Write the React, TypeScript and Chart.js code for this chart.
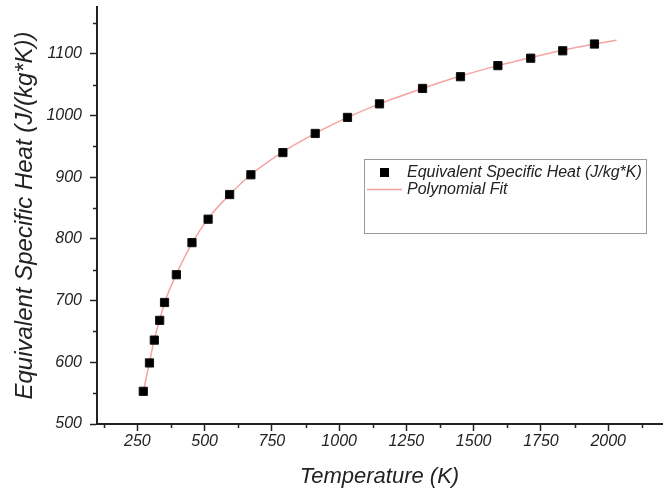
import React, { useEffect, useRef } from "react";
import { Chart, registerables } from "chart.js";

Chart.register(...registerables);

const TEMPS = [272, 295, 313, 333, 351, 395, 453, 513, 593, 672, 791, 911, 1031, 1150, 1310, 1451, 1590, 1712, 1831, 1949];
const HEAT = [553, 599, 636, 668, 697, 742, 794, 832, 872, 904, 940, 971, 997, 1019, 1044, 1063, 1081, 1093, 1105, 1116];

const FIT_T = [270, 295, 313, 333, 353, 395, 453, 513, 593, 672, 791, 911, 1031, 1150, 1310, 1451, 1590, 1712, 1831, 1949, 2031];
const FIT_HEAT = [548, 600, 637, 669, 699, 743, 793, 833, 872, 904, 941, 971, 997, 1019, 1044, 1064, 1081, 1094, 1106, 1116, 1122];

const X_MAJOR = [250, 500, 750, 1000, 1250, 1500, 1750, 2000];
const X_MINOR = [125, 375, 625, 875, 1125, 1375, 1625, 1875, 2125];
const Y_MAJOR = [500, 600, 700, 800, 900, 1000, 1100];
const Y_MINOR = [550, 650, 750, 850, 950, 1050, 1150];

const SERIES_LABEL = "Equivalent Specific Heat (J/kg*K)";
const FIT_LABEL = "Polynomial Fit";
const X_TITLE = "Temperature (K)";
const Y_TITLE = "Equivalent Specific Heat (J/(kg*K))";

const FONT = "'Liberation Sans', Arial, sans-serif";
const AXIS = "#222";
const FIT_COLOR = "#f4a3a3";

const minorTicks = {
  id: "minorTicks",
  afterDraw(chart: any) {
    const ctx = chart.ctx;
    const xs = chart.scales.x;
    const ys = chart.scales.y;
    const { left, bottom } = chart.chartArea;
    ctx.save();
    ctx.strokeStyle = AXIS;
    ctx.lineWidth = 1.5;
    ctx.beginPath();
    X_MINOR.forEach((v) => {
      const px = Math.round(xs.getPixelForValue(v)) + 0.5;
      ctx.moveTo(px, bottom);
      ctx.lineTo(px, bottom + 4);
    });
    Y_MINOR.forEach((v) => {
      const py = Math.round(ys.getPixelForValue(v)) + 0.5;
      ctx.moveTo(left, py);
      ctx.lineTo(left - 4, py);
    });
    ctx.stroke();
    ctx.restore();
  },
};

const boxLegend = {
  id: "boxLegend",
  afterDraw(chart: any) {
    const ctx = chart.ctx;
    ctx.save();
    ctx.strokeStyle = "#9a9a9a";
    ctx.lineWidth = 1;
    ctx.strokeRect(364.5, 159.5, 282, 74);
    ctx.fillStyle = "#000";
    ctx.fillRect(380, 168, 9, 9);
    ctx.strokeStyle = FIT_COLOR;
    ctx.lineWidth = 1.5;
    ctx.beginPath();
    ctx.moveTo(367, 189.5);
    ctx.lineTo(402, 189.5);
    ctx.stroke();
    ctx.fillStyle = AXIS;
    ctx.font = `italic 16px ${FONT}`;
    ctx.textBaseline = "middle";
    ctx.textAlign = "left";
    ctx.fillText(SERIES_LABEL, 407, 173);
    ctx.fillText(FIT_LABEL, 407, 190);
    ctx.restore();
  },
};

export default function App() {
  const ref = useRef<HTMLCanvasElement>(null);

  useEffect(() => {
    if (!ref.current) return;
    const chart = new Chart(ref.current, {
      type: "scatter",
      data: {
        datasets: [
          {
            label: FIT_LABEL,
            type: "line",
            data: FIT_T.map((t, i) => ({ x: t, y: FIT_HEAT[i] })),
            borderColor: FIT_COLOR,
            borderWidth: 1.5,
            pointRadius: 0,
            cubicInterpolationMode: "monotone",
            fill: false,
            order: 2,
          } as any,
          {
            label: SERIES_LABEL,
            data: TEMPS.map((t, i) => ({ x: t, y: HEAT[i] })),
            pointStyle: "rect",
            pointRadius: 5.8,
            pointBackgroundColor: "#000",
            pointBorderColor: "#111",
            pointBorderWidth: 1,
            showLine: false,
            order: 1,
          },
        ],
      },
      options: {
        animation: false,
        responsive: false,
        maintainAspectRatio: false,
        layout: { padding: { top: 7, right: 8, bottom: 0, left: 0 } },
        plugins: {
          legend: { display: false },
          tooltip: { enabled: false },
        },
        scales: {
          x: {
            type: "linear",
            min: 100,
            max: 2200,
            afterBuildTicks: (s: any) => {
              s.ticks = X_MAJOR.map((v) => ({ value: v }));
            },
            afterFit: (s: any) => {
              s.height = 72;
              s.paddingLeft = 0;
              s.paddingRight = 0;
            },
            grid: {
              display: true,
              drawOnChartArea: false,
              drawTicks: true,
              tickLength: 7,
              tickColor: AXIS,
              tickWidth: 1.5,
            },
            border: { display: true, color: AXIS, width: 2 },
            ticks: {
              color: AXIS,
              font: { family: FONT, size: 16, style: "italic" },
              padding: 1,
              maxRotation: 0,
              callback: (v: any) => String(v),
            },
            title: {
              display: true,
              text: X_TITLE,
              color: AXIS,
              font: { family: FONT, size: 22, style: "italic" },
              padding: { top: 0, bottom: 6 },
            },
          },
          y: {
            type: "linear",
            min: 500,
            max: 1176,
            afterBuildTicks: (s: any) => {
              s.ticks = Y_MAJOR.map((v) => ({ value: v }));
            },
            afterFit: (s: any) => {
              s.width = 97;
              s.paddingTop = 0;
              s.paddingBottom = 0;
            },
            grid: {
              display: true,
              drawOnChartArea: false,
              drawTicks: true,
              tickLength: 7,
              tickColor: AXIS,
              tickWidth: 1.5,
            },
            border: { display: true, color: AXIS, width: 2 },
            ticks: {
              color: AXIS,
              font: { family: FONT, size: 16, style: "italic" },
              padding: 8,
              callback: (v: any) => String(v),
            },
            title: {
              display: true,
              text: Y_TITLE,
              color: AXIS,
              font: { family: FONT, size: 24, style: "italic" },
              padding: { top: 11, bottom: 0 },
            },
          },
        },
      },
      plugins: [minorTicks, boxLegend],
    });
    return () => chart.destroy();
  }, []);

  return (
    <div style={{ position: "absolute", left: 0, top: 0, width: 670, height: 496, background: "#fff" }}>
      <canvas ref={ref} width={670} height={496} style={{ display: "block", width: 670, height: 496 }} />
    </div>
  );
}
